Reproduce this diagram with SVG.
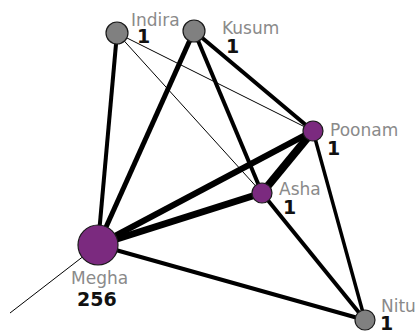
<svg xmlns="http://www.w3.org/2000/svg" width="415" height="331" viewBox="0 0 415 331">
<style>
.e{stroke:#000;fill:none;stroke-linecap:butt}
.g{fill:#808080;stroke:#1a1a1a;stroke-width:1.2}
.p{fill:#7b2a7f;stroke:#1a1a1a;stroke-width:1.2}
.n{font-family:"DejaVu Sans",sans-serif;font-size:17px;fill:#8a8a8a}
.v{font-family:"DejaVu Sans",sans-serif;font-size:19px;font-weight:bold;fill:#111}
</style>
<rect width="415" height="331" fill="#fff"/>
<g id="edges">
<line class="e" x1="98" y1="245" x2="10" y2="313" stroke-width="1"/>
<line class="e" x1="117" y1="33" x2="262" y2="193" stroke-width="1"/>
<line class="e" x1="117" y1="33" x2="313" y2="131" stroke-width="1"/>
<line class="e" x1="117" y1="33" x2="98" y2="245" stroke-width="4"/>
<line class="e" x1="194" y1="31" x2="98" y2="245" stroke-width="5"/>
<line class="e" x1="194" y1="31" x2="262" y2="193" stroke-width="4"/>
<line class="e" x1="194" y1="31" x2="313" y2="131" stroke-width="4"/>
<line class="e" x1="313" y1="131" x2="98" y2="245" stroke-width="6"/>
<line class="e" x1="313" y1="131" x2="262" y2="193" stroke-width="8"/>
<line class="e" x1="313" y1="131" x2="365" y2="320" stroke-width="3.5"/>
<line class="e" x1="262" y1="193" x2="98" y2="245" stroke-width="7"/>
<line class="e" x1="262" y1="193" x2="365" y2="320" stroke-width="4"/>
<line class="e" x1="98" y1="245" x2="365" y2="320" stroke-width="4"/>
</g>
<g id="indira"><circle class="g" cx="117" cy="33" r="11"/><text class="n" x="131" y="26">Indira</text><text class="v" x="137" y="43">1</text></g>
<g id="kusum"><circle class="g" cx="194" cy="31" r="11"/><text class="n" x="222" y="34">Kusum</text><text class="v" x="226" y="53">1</text></g>
<g id="poonam"><circle class="p" cx="313" cy="131" r="10"/><text class="n" x="330" y="136">Poonam</text><text class="v" x="327" y="155">1</text></g>
<g id="asha"><circle class="p" cx="262" cy="193" r="10"/><text class="n" x="279" y="195">Asha</text><text class="v" x="283" y="214">1</text></g>
<g id="megha"><circle class="p" cx="98" cy="245" r="20"/><text class="n" x="71" y="284">Megha</text><text class="v" x="77" y="306">256</text></g>
<g id="nitu"><circle class="g" cx="365" cy="320" r="10"/><text class="n" x="381" y="312">Nitu</text><text class="v" x="380" y="330">1</text></g>
</svg>
